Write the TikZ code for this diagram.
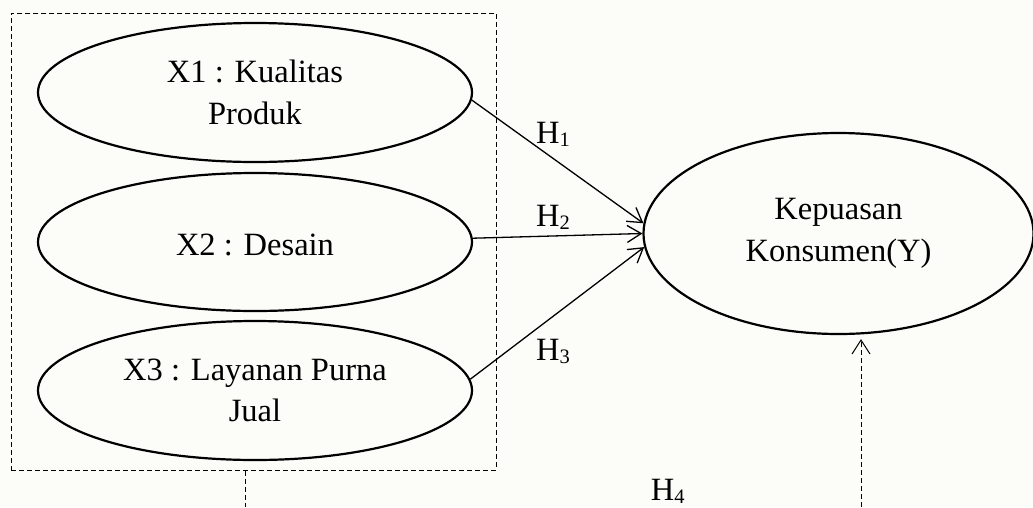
\documentclass[tikz,border=0pt]{standalone}
\usepackage{fontspec}
\setmainfont{Liberation Serif}
\usetikzlibrary{arrows.meta,shapes.geometric}
\definecolor{bgc}{RGB}{252,252,248}
\newcommand\Hsubx[1]{\raisebox{-3pt}{\fontsize{20.5}{20.5}\selectfont #1}}
\begin{document}
\begin{tikzpicture}[x=1pt,y=-1pt,
  lat/.style={draw, ellipse, line width=2.2pt, inner sep=0pt, align=center,
    font=\fontsize{32.5}{41.5}\selectfont, execute at begin node={\rule{0pt}{28pt}}},
  grp/.style={draw, rectangle, dash pattern=on 5pt off 3pt, line width=1pt, inner sep=0pt},
  hpath/.style={line width=1.3pt, -{Straight Barb[length=14pt,width=17pt,line width=1.3pt]}},
  hyp/.style={anchor=base west, inner sep=0pt, font=\fontsize{32.5}{40}\selectfont},
  dlink/.style={line width=1pt, dash pattern=on 5pt off 3pt}
]
\fill[bgc] (0,0) rectangle (1033,507);
\useasboundingbox (0,0) rectangle (1033,507);

\node[grp, minimum width=485pt, minimum height=457pt] (G) at (253.5,241.5) {};

\node[lat, minimum width=434pt, minimum height=139pt] (X1) at (255,92.5) {X1 : Kualitas\\Produk};
\node[lat, minimum width=434pt, minimum height=138pt] (X2) at (255,242) {X2 : Desain};
\node[lat, minimum width=434pt, minimum height=139pt] (X3) at (255,390.5) {X3 : Layanan Purna\\Jual};
\node[lat, minimum width=390pt, minimum height=201pt] (Y) at (838.5,233.5) {Kepuasan\\Konsumen(Y)};

\draw[hpath] (X1.-2.8) -- (Y.177.2);
\draw[hpath] (X2.1.9) -- (Y.180.7);
\draw[hpath] (X3.3.3) -- (Y.184);

\node[hyp] (h1) at (536,143.3) {H\Hsubx{1}};
\node[hyp] (h2) at (536,226.7) {H\Hsubx{2}};
\node[hyp] (h3) at (536,360) {H\Hsubx{3}};
\node[hyp] (h4) at (650.7,500.7) {H\Hsubx{4}};

\coordinate (b1) at (245,507);
\coordinate (b2) at (861,507);
\draw[dlink] (G.south -| b1) -- (b1);
\draw[dlink, -{Straight Barb[length=14pt,width=18pt,line width=1pt]}, shorten >=4pt] (b2) -- (b2 |- Y.south);
\end{tikzpicture}
\end{document}
